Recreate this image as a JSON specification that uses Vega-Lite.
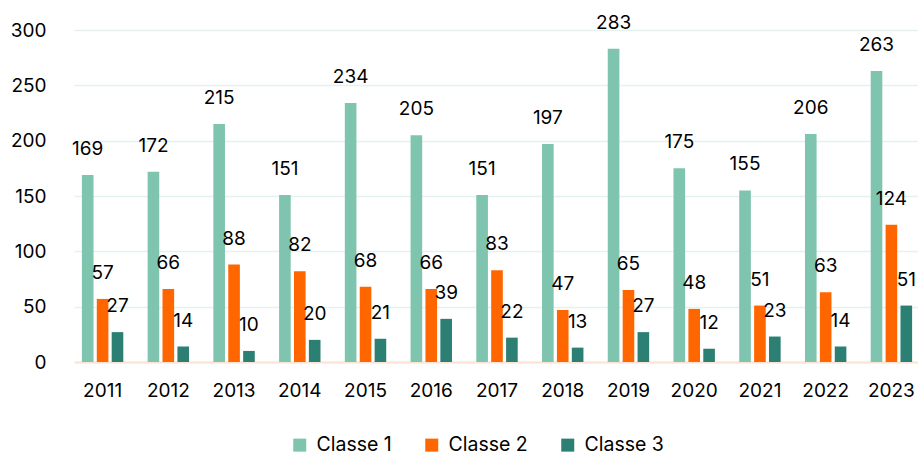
{
  "$schema": "https://vega.github.io/schema/vega-lite/v6.json",
  "width": 846,
  "height": 332,
  "autosize": {"type": "none"},
  "padding": {"left": 74, "top": 30, "right": 0, "bottom": 93},
  "background": "white",
  "config": {
    "view": {"stroke": null},
    "font": "Inter",
    "axis": {"labelFont": "Inter", "labelFontSize": 19, "labelColor": "#000000"},
    "legend": {"labelFont": "Inter", "labelFontSize": 19.5, "labelColor": "#000000"}
  },
  "data": {
    "values": [
      {"year": "2011", "classe": "Classe 1", "value": 169},
      {"year": "2011", "classe": "Classe 2", "value": 57},
      {"year": "2011", "classe": "Classe 3", "value": 27},
      {"year": "2012", "classe": "Classe 1", "value": 172},
      {"year": "2012", "classe": "Classe 2", "value": 66},
      {"year": "2012", "classe": "Classe 3", "value": 14},
      {"year": "2013", "classe": "Classe 1", "value": 215},
      {"year": "2013", "classe": "Classe 2", "value": 88},
      {"year": "2013", "classe": "Classe 3", "value": 10},
      {"year": "2014", "classe": "Classe 1", "value": 151},
      {"year": "2014", "classe": "Classe 2", "value": 82},
      {"year": "2014", "classe": "Classe 3", "value": 20},
      {"year": "2015", "classe": "Classe 1", "value": 234},
      {"year": "2015", "classe": "Classe 2", "value": 68},
      {"year": "2015", "classe": "Classe 3", "value": 21},
      {"year": "2016", "classe": "Classe 1", "value": 205},
      {"year": "2016", "classe": "Classe 2", "value": 66},
      {"year": "2016", "classe": "Classe 3", "value": 39},
      {"year": "2017", "classe": "Classe 1", "value": 151},
      {"year": "2017", "classe": "Classe 2", "value": 83},
      {"year": "2017", "classe": "Classe 3", "value": 22},
      {"year": "2018", "classe": "Classe 1", "value": 197},
      {"year": "2018", "classe": "Classe 2", "value": 47},
      {"year": "2018", "classe": "Classe 3", "value": 13},
      {"year": "2019", "classe": "Classe 1", "value": 283},
      {"year": "2019", "classe": "Classe 2", "value": 65},
      {"year": "2019", "classe": "Classe 3", "value": 27},
      {"year": "2020", "classe": "Classe 1", "value": 175},
      {"year": "2020", "classe": "Classe 2", "value": 48},
      {"year": "2020", "classe": "Classe 3", "value": 12},
      {"year": "2021", "classe": "Classe 1", "value": 155},
      {"year": "2021", "classe": "Classe 2", "value": 51},
      {"year": "2021", "classe": "Classe 3", "value": 23},
      {"year": "2022", "classe": "Classe 1", "value": 206},
      {"year": "2022", "classe": "Classe 2", "value": 63},
      {"year": "2022", "classe": "Classe 3", "value": 14},
      {"year": "2023", "classe": "Classe 1", "value": 263},
      {"year": "2023", "classe": "Classe 2", "value": 124},
      {"year": "2023", "classe": "Classe 3", "value": 51}
    ]
  },
  "encoding": {
    "x": {
      "field": "year", "type": "nominal",
      "scale": {"paddingInner": 0.37, "paddingOuter": 0.12},
      "axis": {"title": null, "labelAngle": 0, "ticks": false, "domainColor": "#fbe3d6", "domainWidth": 2, "labelPadding": 19, "grid": false}
    },
    "y": {
      "field": "value", "type": "quantitative",
      "scale": {"domain": [0, 300]},
      "axis": {"title": null, "values": [0, 50, 100, 150, 200, 250, 300], "domain": false, "ticks": false, "labelPadding": 28, "gridColor": "#e4f2ed", "gridWidth": 1.5}
    },
    "xOffset": {"field": "classe", "type": "nominal", "scale": {"paddingInner": 0.22}}
  },
  "layer": [
    {
      "mark": {"type": "bar"},
      "encoding": {
        "color": {
          "field": "classe", "type": "nominal",
          "scale": {"domain": ["Classe 1", "Classe 2", "Classe 3"], "range": ["#7fc4ae", "#ff6600", "#2b7f73"]},
          "legend": {"title": null, "orient": "none", "legendX": 216, "legendY": 405, "direction": "horizontal", "symbolType": "square", "symbolSize": 169, "symbolStrokeWidth": 0, "columnPadding": 30, "labelOffset": 7}
        }
      }
    },
    {
      "mark": {"type": "text", "fontSize": 19, "baseline": "alphabetic", "dy": -20, "color": "#000000"},
      "encoding": {"text": {"field": "value", "type": "quantitative"}}
    }
  ]
}
